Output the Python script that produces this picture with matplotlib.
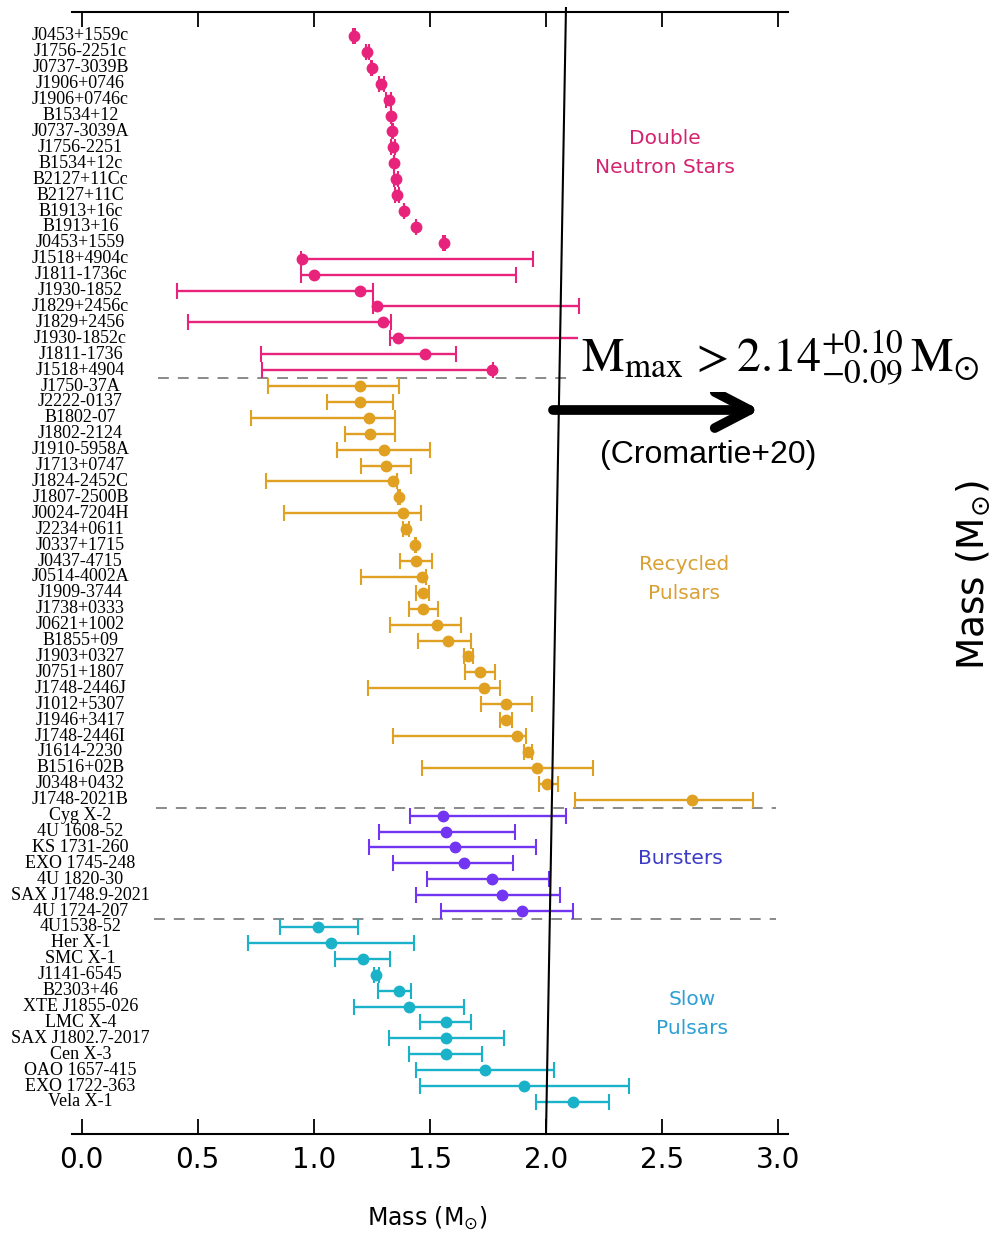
import matplotlib
matplotlib.use("Agg")
import matplotlib.pyplot as plt
import numpy as np

# ---------------- data ----------------
dns_names = ["J0453+1559c", "J1756-2251c", "J0737-3039B", "J1906+0746", "J1906+0746c",
             "B1534+12", "J0737-3039A", "J1756-2251", "B1534+12c", "B2127+11Cc",
             "B2127+11C", "B1913+16c", "B1913+16", "J0453+1559", "J1518+4904c",
             "J1811-1736c", "J1930-1852", "J1829+2456c", "J1829+2456", "J1930-1852c",
             "J1811-1736", "J1518+4904"]
dns_mass = [1.174, 1.230, 1.249, 1.291, 1.322, 1.333, 1.338, 1.341, 1.346, 1.354,
            1.358, 1.389, 1.440, 1.559, 0.950, 1.002, 1.200, 1.274, 1.299, 1.363,
            1.478, 1.768]
dns_lo = [1.170, 1.223, 1.248, 1.280, 1.311, 1.332, 1.337, 1.334, 1.345, 1.344,
          1.348, 1.388, 1.439, 1.555, 0.947, 0.947, 0.411, 1.253, 0.458, 1.329,
          0.771, 0.776]
dns_hi = [1.178, 1.237, 1.250, 1.302, 1.333, 1.334, 1.339, 1.348, 1.347, 1.364,
          1.368, 1.390, 1.441, 1.563, 1.944, 1.871, 1.256, 2.144, 1.332, 2.200,
          1.614, 1.770]

rec_names = ["J1750-37A", "J2222-0137", "B1802-07", "J1802-2124", "J1910-5958A",
             "J1713+0747", "J1824-2452C", "J1807-2500B", "J0024-7204H", "J2234+0611",
             "J0337+1715", "J0437-4715", "J0514-4002A", "J1909-3744", "J1738+0333",
             "J0621+1002", "B1855+09", "J1903+0327", "J0751+1807", "J1748-2446J",
             "J1012+5307", "J1946+3417", "J1748-2446I", "J1614-2230", "B1516+02B",
             "J0348+0432", "J1748-2021B"]
rec_mass = [1.201, 1.200, 1.238, 1.240, 1.302, 1.310, 1.343, 1.366, 1.385, 1.396,
            1.437, 1.442, 1.468, 1.470, 1.470, 1.529, 1.577, 1.665, 1.717, 1.732,
            1.826, 1.828, 1.874, 1.923, 1.960, 2.006, 2.627]
rec_lo = [0.801, 1.059, 0.729, 1.133, 1.100, 1.203, 0.796, 1.362, 0.873, 1.383,
          1.435, 1.370, 1.203, 1.440, 1.410, 1.330, 1.450, 1.647, 1.652, 1.234,
          1.719, 1.802, 1.341, 1.906, 1.468, 1.971, 2.126]
rec_hi = [1.369, 1.341, 1.348, 1.348, 1.500, 1.420, 1.360, 1.370, 1.463, 1.409,
          1.439, 1.510, 1.485, 1.498, 1.533, 1.632, 1.678, 1.687, 1.782, 1.804,
          1.938, 1.855, 1.912, 1.940, 2.203, 2.050, 2.891]

bur_names = ["Cyg X-2", "4U 1608-52", "KS 1731-260", "EXO 1745-248", "4U 1820-30",
             "SAX J1748.9-2021", "4U 1724-207"]
bur_mass = [1.557, 1.568, 1.610, 1.649, 1.767, 1.811, 1.896]
bur_lo = [1.415, 1.280, 1.238, 1.339, 1.487, 1.442, 1.547]
bur_hi = [2.085, 1.866, 1.955, 1.857, 2.012, 2.060, 2.117]

slow_names = ["4U1538-52", "Her X-1", "SMC X-1", "J1141-6545", "B2303+46",
              "XTE J1855-026", "LMC X-4", "SAX J1802.7-2017", "Cen X-3",
              "OAO 1657-415", "EXO 1722-363", "Vela X-1"]
slow_mass = [1.020, 1.076, 1.210, 1.269, 1.367, 1.409, 1.568, 1.568, 1.568,
             1.739, 1.907, 2.117]
slow_lo = [0.853, 0.718, 1.092, 1.259, 1.276, 1.171, 1.457, 1.324, 1.411,
           1.442, 1.457, 1.958]
slow_hi = [1.192, 1.431, 1.330, 1.279, 1.420, 1.649, 1.678, 1.820, 1.726,
           2.034, 2.358, 2.272]

x_ticks = [0.0, 0.5, 1.0, 1.5, 2.0, 2.5, 3.0]
x_tick_labels = ["0.0", "0.5", "1.0", "1.5", "2.0", "2.5", "3.0"]

groups = [
    ("Double\nNeutron Stars", dns_names, dns_mass, dns_lo, dns_hi, "#e8237c", "#d42470"),
    ("Recycled\nPulsars", rec_names, rec_mass, rec_lo, rec_hi, "#e0a022", "#d9a035"),
    ("Bursters", bur_names, bur_mass, bur_lo, bur_hi, "#7236f2", "#3b3bc8"),
    ("Slow\nPulsars", slow_names, slow_mass, slow_lo, slow_hi, "#1ab2c9", "#2c9fd4"),
]

# ---------------- figure ----------------
W, H = 998, 1235
fig = plt.figure(figsize=(W / 100, H / 100), dpi=100)

px0, px_per = 81.6, 232.2          # pixel of mass 0, pixels per unit mass
xmin, xmax = -0.041, 3.042
ax_left = px0 + xmin * px_per
ax_right = px0 + xmax * px_per
ax_top, ax_bot = 12, 1134
ax = fig.add_axes([ax_left / W, 1 - ax_bot / H, (ax_right - ax_left) / W, (ax_bot - ax_top) / H])

n_total = sum(len(g[1]) for g in groups)
row0, row_sp = 36, 15.91
ytop = -(row0 - ax_top) / row_sp
ybot = (n_total - 1) + (ax_bot - (row0 + (n_total - 1) * row_sp)) / row_sp

start = 0
boundaries = []
for gname, names, mass, lo, hi, col, tcol in groups:
    n = len(names)
    y = np.arange(start, start + n)
    m = np.array(mass)
    err = [m - np.array(lo), np.array(hi) - m]
    ax.errorbar(m, y, xerr=err, fmt="o", color=col, ms=7.5, elinewidth=1.7,
                capsize=5.5, capthick=1.5, zorder=3)
    for yi, nm in zip(y, names):
        ax.text(-0.005, yi, nm, ha="center", va="center", fontsize=13,
                family="Liberation Serif", color="black", clip_on=False)
    start += n
    boundaries.append(start - 0.5)

# dashed separators
ax.plot([0.33, 2.12], [boundaries[0]] * 2, ls=(0, (6, 5)), color="#808080", lw=1.3, zorder=1)
ax.plot([0.32, 2.99], [boundaries[1]] * 2, ls=(0, (6, 5)), color="#808080", lw=1.3, zorder=1)
ax.plot([0.31, 2.99], [boundaries[2]] * 2, ls=(0, (6, 5)), color="#808080", lw=1.3, zorder=1)

ax.set_xlim(xmin, xmax)
ax.set_ylim(ybot, ytop)

# slanted black line
ax.plot([2.086, 2.0], [ytop - 0.25, ybot], color="black", lw=1.5, clip_on=False, zorder=5)

for s in ["left", "right"]:
    ax.spines[s].set_visible(False)
for s in ["top", "bottom"]:
    ax.spines[s].set_linewidth(1.5)
ax.set_yticks([])
ax.set_xticks(x_ticks)
ax.set_xticklabels(x_tick_labels)
ax.tick_params(axis="x", which="both", direction="in", top=True, bottom=True,
               length=11, width=1.3, labelsize=20, pad=9)

# group labels
fs_grp = 14.5
ls_grp = 1.62
fig.text(665 / W, 1 - 153 / H, groups[0][0], ha="center", va="center", color=groups[0][6],
         fontsize=fs_grp, linespacing=ls_grp)
fig.text(684 / W, 1 - 579 / H, groups[1][0], ha="center", va="center", color=groups[1][6],
         fontsize=fs_grp, linespacing=ls_grp)
fig.text(680 / W, 1 - 858 / H, groups[2][0], ha="center", va="center", color=groups[2][6],
         fontsize=fs_grp, linespacing=ls_grp)
fig.text(692 / W, 1 - 1014 / H, groups[3][0], ha="center", va="center", color=groups[3][6],
         fontsize=fs_grp, linespacing=ls_grp)

# Mmax annotation
fig.text(581 / W, 1 - 373 / H,
         r"$\mathrm{M}_{\mathrm{max}}\,> 2.14^{+0.10}_{-0.09}\,\mathrm{M}_{\odot}$",
         ha="left", va="baseline", fontsize=34.5, math_fontfamily="stix",
         bbox=dict(facecolor="white", edgecolor="none", pad=2), zorder=10)
ax.annotate("", xy=(760, H - 410), xytext=(553, H - 410), xycoords="figure pixels",
            textcoords="figure pixels",
            arrowprops=dict(arrowstyle="->,head_length=1.25,head_width=0.65", lw=7,
                            color="black", shrinkA=0, shrinkB=0, mutation_scale=20),
            annotation_clip=False)
fig.text(708 / W, 1 - 455 / H, "(Cromartie+20)", ha="center", va="center",
         fontsize=23, family="Liberation Sans")

# axis labels
fig.text(427 / W, 1 - 1218 / H, r"Mass (M$_{\odot}$)", ha="center", va="center", fontsize=17)
fig.text(973 / W, 1 - 575 / H, r"Mass (M$_{\odot}$)", ha="center", va="center",
         fontsize=27, rotation=90)

fig.savefig("out.png", dpi=100)
